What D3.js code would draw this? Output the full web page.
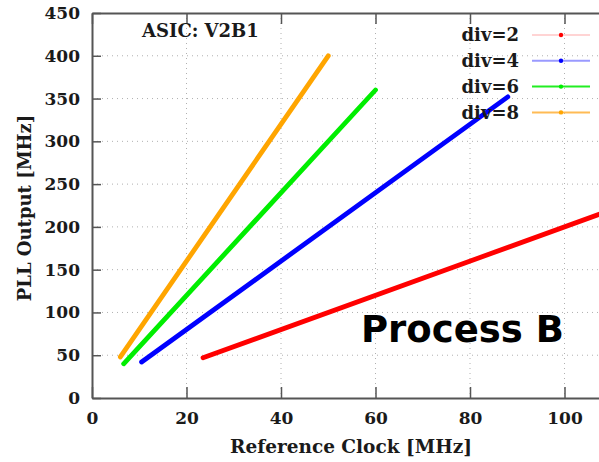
<!DOCTYPE html>
<html><head><meta charset="utf-8">
<script src="https://cdn.jsdelivr.net/npm/d3@7"></script>
<style>body{margin:0;background:#fff}svg{display:block}</style>
</head><body>
<svg id="c" width="599" height="462"></svg>
<script>
const seriesNames = ["div=2", "div=4", "div=6", "div=8"];
const seriesColors = ["#ff0000", "#0000ff", "#00ee00", "#ffa500"];
const legendLineColors = ["#ffd4d4", "#9a9aff", "#22ee22", "#ffbb55"];
const refClock = [[23.5, 110], [10.5, 88], [6.7, 60], [6, 50]];
const pllOutput = [[47, 220], [42, 352], [40, 360], [48, 400]];
const xTicks = [0, 20, 40, 60, 80, 100];
const yTicks = [0, 50, 100, 150, 200, 250, 300, 350, 400, 450];

const svg = d3.select("#c");
const L = 92, T = 13, B = 398, R = 599;
const x = d3.scaleLinear().domain([0, 107.3]).range([L, R]);
const y = d3.scaleLinear().domain([0, 450]).range([B, T]);
const serif = "'DejaVu Serif', serif";

svg.append("clipPath").attr("id", "clip").append("rect")
  .attr("x", L).attr("y", T).attr("width", R - L).attr("height", B - T);

// grid
const grid = svg.append("g").attr("stroke", "#b0b0b0").attr("stroke-width", 1).attr("stroke-dasharray", "1,4");
yTicks.filter(v => v > 0 && v < 450).forEach(v => grid.append("line")
  .attr("x1", L).attr("x2", R).attr("y1", y(v)).attr("y2", y(v)));
xTicks.filter(v => v > 0).forEach(v => grid.append("line")
  .attr("x1", x(v)).attr("x2", x(v)).attr("y1", T).attr("y2", B));

// axes
const xAxis = d3.axisBottom(x).tickValues(xTicks).tickSizeInner(-11).tickSizeOuter(0).tickPadding(20);
const gx = svg.append("g").attr("transform", `translate(0,${B})`).call(xAxis);
const yAxis = d3.axisLeft(y).tickValues(yTicks).tickSizeInner(-9).tickSizeOuter(0).tickPadding(12);
const gy = svg.append("g").attr("transform", `translate(${L},0)`).call(yAxis);
const xTop = d3.axisTop(x).tickValues(xTicks).tickSizeInner(-11).tickSizeOuter(0).tickFormat("");
const gt = svg.append("g").attr("transform", `translate(0,${T})`).call(xTop);
[gx, gy, gt].forEach(g => {
  g.select(".domain").attr("stroke", "#555").attr("stroke-width", 2);
  g.selectAll(".tick line").attr("stroke", "#555").attr("stroke-width", 1.5);
  g.selectAll("text").attr("font-family", serif).attr("font-weight", "bold")
    .attr("font-size", 17).attr("fill", "#1a1a1a");
});
gx.selectAll(".tick text").attr("dy", "0.35em");

// lines
const line = d3.line().x(d => x(d[0])).y(d => y(d[1]));
const lines = svg.append("g").attr("clip-path", "url(#clip)");
seriesNames.forEach((n, i) => {
  const pts = refClock[i].map((v, j) => [v, pllOutput[i][j]]);
  lines.append("path").attr("d", line(pts)).attr("fill", "none")
    .attr("stroke", seriesColors[i]).attr("stroke-width", 4.8).attr("stroke-linecap", "round");
});

// legend
seriesNames.forEach((n, i) => {
  const cy = 35 + i * 25.8;
  svg.append("text").attr("x", 519).attr("y", cy).attr("dy", "0.36em").attr("text-anchor", "end")
    .attr("font-family", serif).attr("font-weight", "bold").attr("font-size", 18).attr("fill", "#1a1a1a").text(n);
  svg.append("line").attr("x1", 532).attr("x2", 590).attr("y1", cy).attr("y2", cy)
    .attr("stroke", legendLineColors[i]).attr("stroke-width", 2);
  svg.append("circle").attr("cx", 561).attr("cy", cy).attr("r", 2.2).attr("fill", seriesColors[i]);
});

// annotations
svg.append("text").attr("x", 142).attr("y", 37).attr("font-family", serif).attr("font-weight", "bold")
  .attr("font-size", 18).attr("fill", "#1a1a1a").text("ASIC: V2B1");
svg.append("text").attr("x", 361).attr("y", 342).attr("font-family", "'DejaVu Sans', sans-serif")
  .attr("font-weight", "bold").attr("font-size", 37).attr("fill", "#000").text("Process B");

// axis titles
svg.append("text").attr("x", 351).attr("y", 453).attr("text-anchor", "middle")
  .attr("font-family", serif).attr("font-weight", "bold").attr("font-size", 18.5).attr("fill", "#1a1a1a")
  .text("Reference Clock [MHz]");
svg.append("text").attr("transform", "translate(31,208) rotate(-90)").attr("text-anchor", "middle")
  .attr("font-family", serif).attr("font-weight", "bold").attr("font-size", 18).attr("fill", "#1a1a1a")
  .text("PLL Output [MHz]");
</script>
</body></html>
